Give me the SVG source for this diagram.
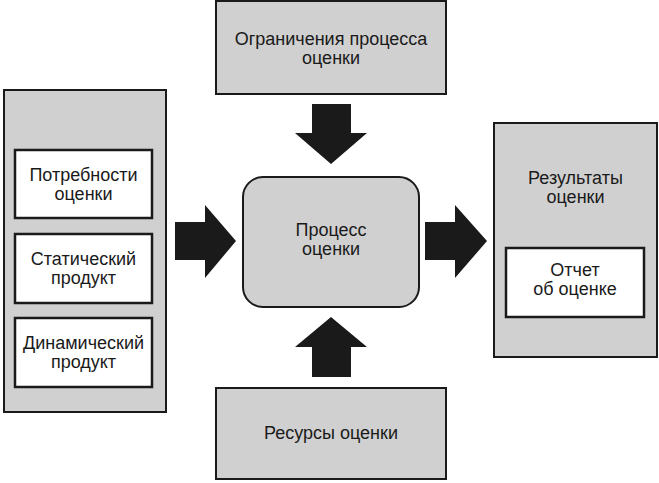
<svg xmlns="http://www.w3.org/2000/svg" width="659" height="483" viewBox="0 0 659 483">
<style>
.g{fill:#d0d0d0;stroke:#1a1a1a;stroke-width:2}
.w{fill:#ffffff;stroke:#1a1a1a;stroke-width:2.5}
.a{fill:#1a1a1a;stroke:none}
text{font-family:"Liberation Sans",Arial,sans-serif;font-size:18px;fill:#1a1a1a;text-anchor:middle}
</style>
<rect width="659" height="483" fill="#ffffff"/>
<g id="inputs">
<rect class="g" x="4" y="90" width="162" height="322"/>
</g>
<g id="needs">
<rect class="w" x="15" y="150" width="137" height="68"/>
<text x="83.5" y="181">Потребности</text>
<text x="83.5" y="200">оценки</text>
</g>
<g id="static">
<rect class="w" x="15" y="234" width="137" height="69"/>
<text x="83.5" y="265">Статический</text>
<text x="83.5" y="284">продукт</text>
</g>
<g id="dynamic">
<rect class="w" x="15" y="318" width="137" height="69"/>
<text x="83.5" y="349">Динамический</text>
<text x="83.5" y="368">продукт</text>
</g>
<g id="constraints">
<rect class="g" x="216" y="1" width="230" height="93"/>
<text x="331" y="45">Ограничения процесса</text>
<text x="331" y="64">оценки</text>
</g>
<g id="process">
<rect class="g" x="243" y="177" width="176" height="130" rx="20" ry="20"/>
<text x="331" y="236">Процесс</text>
<text x="331" y="255">оценки</text>
</g>
<g id="resources">
<rect class="g" x="216" y="388" width="230" height="91"/>
<text x="331" y="439">Ресурсы оценки</text>
</g>
<g id="results">
<rect class="g" x="494" y="123" width="163" height="234"/>
<text x="575.5" y="184">Результаты</text>
<text x="575.5" y="203">оценки</text>
</g>
<g id="report">
<rect class="w" x="506" y="248" width="138" height="69"/>
<text x="575" y="276">Отчет</text>
<text x="575" y="295">об оценке</text>
</g>
<g id="connectors">
<polygon class="a" points="312,104 351,104 351,133 367,133 331,164 295,133 312,133"/>
<polygon class="a" points="312,377 351,377 351,347 367,347 331,317 295,347 312,347"/>
<polygon class="a" points="175,222 205,222 205,205 236,241 205,278 205,260 175,260"/>
<polygon class="a" points="425,222 455,222 455,205 487,241 455,278 455,260 425,260"/>
</g>
</svg>
